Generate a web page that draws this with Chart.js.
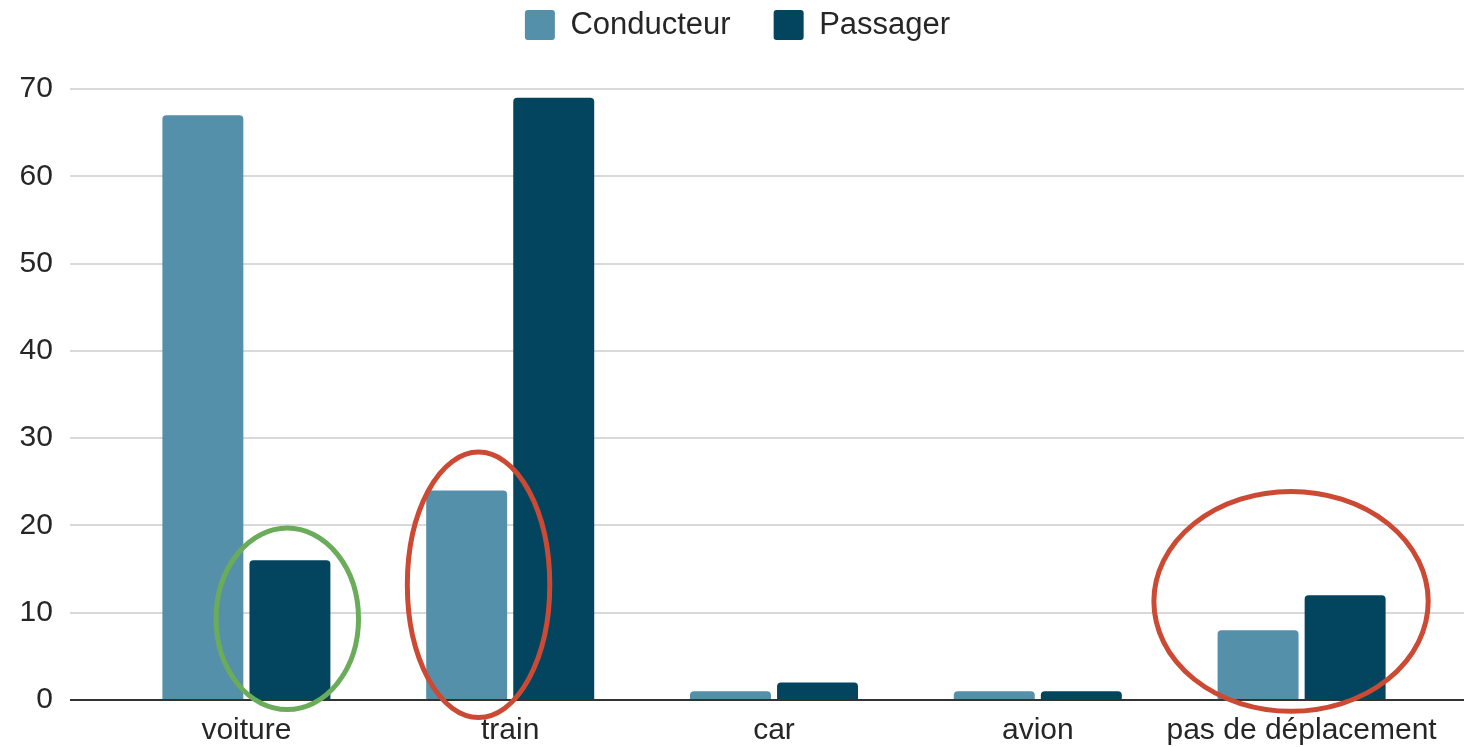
<!DOCTYPE html>
<html lang="fr">
<head>
<meta charset="utf-8">
<title>Conducteur / Passager</title>
<script src="https://cdn.jsdelivr.net/npm/chart.js@4/dist/chart.umd.min.js"></script>
<style>
  html, body { margin: 0; padding: 0; background: #ffffff; }
  #wrap { position: relative; width: 1464px; height: 747px; }
</style>
</head>
<body>
<div id="wrap"><canvas id="chart" width="1464" height="747"></canvas></div>
<script>
// Modes de déplacement et répartition conducteur / passager
const categories = ['voiture', 'train', 'car', 'avion', 'pas de déplacement'];
const conducteur = [67, 24, 1, 1, 8];
const passager = [16, 69, 2, 1, 12];
const yTicks = [0, 10, 20, 30, 40, 50, 60, 70];

// Highlight rings, placed in data units (category offset/width, value units)
const highlights = [
  { category: 'voiture', dx: 0.155, y: 9.3, rx: 0.27, ry: 10.4, color: '#6aac5a' },
  { category: 'train', dx: -0.12, y: 13.2, rx: 0.27, ry: 15.2, color: '#cc4a34' },
  { category: 'pas de déplacement', dx: -0.04, y: 11.3, rx: 0.52, ry: 12.6, color: '#cc4a34' }
];

const FONT = "'Liberation Sans', Arial, sans-serif";
const TEXT = '#262626';
const PLOT_TOP = 89;
const PAD_TOP = -33.5;
const GRID_START_X = 70;

// Grid lines running past the plot edges, the dark baseline and the rings
const gridPlugin = {
  id: 'wideGrid',
  beforeDatasetsDraw(chart) {
    const { ctx } = chart;
    const y = chart.scales.y;
    ctx.save();
    ctx.strokeStyle = '#d9d9d9';
    ctx.lineWidth = 2;
    yTicks.forEach(v => {
      if (v === 0) return;
      const py = Math.round(y.getPixelForValue(v));
      ctx.beginPath();
      ctx.moveTo(GRID_START_X, py);
      ctx.lineTo(chart.width, py);
      ctx.stroke();
    });
    ctx.restore();
  },
  afterDatasetsDraw(chart) {
    const { ctx } = chart;
    const x = chart.scales.x;
    const y = chart.scales.y;
    ctx.save();
    ctx.strokeStyle = '#333333';
    ctx.lineWidth = 2;
    const py = Math.round(y.getPixelForValue(0));
    ctx.beginPath();
    ctx.moveTo(GRID_START_X, py);
    ctx.lineTo(chart.width, py);
    ctx.stroke();

    const catW = x.width / categories.length;
    const unit = Math.abs(y.getPixelForValue(1) - y.getPixelForValue(0));
    ctx.lineWidth = 5;
    highlights.forEach(h => {
      const idx = categories.indexOf(h.category);
      const cx = x.getPixelForValue(idx) + h.dx * catW;
      const cy = y.getPixelForValue(h.y);
      ctx.strokeStyle = h.color;
      ctx.beginPath();
      ctx.ellipse(cx, cy, h.rx * catW, h.ry * unit, 0, 0, Math.PI * 2);
      ctx.stroke();
    });
    ctx.restore();
  }
};

new Chart(document.getElementById('chart'), {
  type: 'bar',
  data: {
    labels: categories,
    datasets: [
      {
        label: 'Conducteur',
        data: conducteur,
        backgroundColor: '#5590ab',
        borderRadius: 4,
        borderSkipped: 'start',
        categoryPercentage: 0.66,
        barPercentage: 0.93
      },
      {
        label: 'Passager',
        data: passager,
        backgroundColor: '#03455f',
        borderRadius: 4,
        borderSkipped: 'start',
        categoryPercentage: 0.66,
        barPercentage: 0.93
      }
    ]
  },
  options: {
    responsive: false,
    animation: false,
    layout: { padding: { top: PAD_TOP, left: 41.5, right: 30.5, bottom: 0 } },
    plugins: {
      legend: {
        position: 'top',
        align: 'center',
        labels: {
          font: { family: FONT, size: 31 },
          color: TEXT,
          boxWidth: 30,
          boxHeight: 30,
          padding: 43,
          useBorderRadius: true,
          borderRadius: 3
        }
      },
      tooltip: { enabled: false }
    },
    scales: {
      // empty spacer between the legend and the plot
      xTop: {
        type: 'category',
        position: 'top',
        display: true,
        grid: { display: false },
        border: { display: false },
        ticks: { display: false },
        afterFit(s) {
          const lg = s.chart.legend;
          const used = PAD_TOP + (lg ? lg.height : 0);
          s.height = Math.max(PLOT_TOP - used, 0);
        }
      },
      x: {
        position: 'bottom',
        grid: { display: false, drawTicks: false },
        border: { display: false },
        ticks: {
          font: { family: FONT, size: 30 },
          color: TEXT,
          padding: 13,
          maxRotation: 0,
          autoSkip: false
        },
        afterFit(s) { s.height = 47; }
      },
      y: {
        min: 0,
        max: 70,
        grid: { display: false, drawTicks: false },
        border: { display: false },
        ticks: {
          stepSize: 10,
          font: { family: FONT, size: 30 },
          color: TEXT,
          mirror: true,
          crossAlign: 'far',
          padding: -94.9
        },
        afterBuildTicks(s) { s.ticks = yTicks.map(v => ({ value: v })); },
        afterFit(s) { s.width = 73; }
      }
    }
  },
  plugins: [gridPlugin]
});
</script>
</body>
</html>
